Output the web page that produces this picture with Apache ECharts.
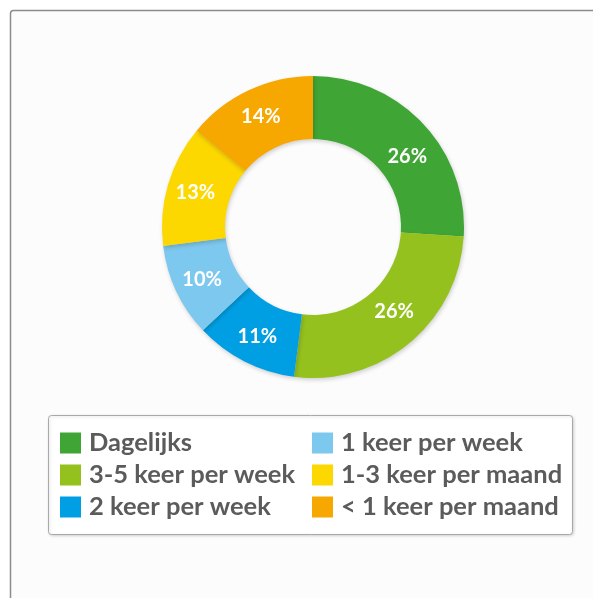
<!DOCTYPE html>
<html>
<head>
<meta charset="utf-8">
<script src="https://cdn.jsdelivr.net/npm/echarts@6/dist/echarts.min.js"></script>
<style>
html,body{margin:0;padding:0;background:#ffffff;}
#chart{width:593px;height:598px;}
</style>
</head>
<body>
<div id="chart"></div>
<script>
var categories = ["Dagelijks", "3-5 keer per week", "2 keer per week", "1 keer per week", "1-3 keer per maand", "< 1 keer per maand"];
var values = [26, 26, 11, 10, 13, 14];
var colors = ["#3fa535", "#95c11f", "#009fe3", "#7dc8ee", "#fcd700", "#f6a800"];
var legendCol1 = ["Dagelijks", "3-5 keer per week", "2 keer per week"];
var legendCol2 = ["1 keer per week", "1-3 keer per maand", "< 1 keer per maand"];

var chart = echarts.init(document.getElementById('chart'), null, {renderer: 'canvas'});

// small label nudges (layout only) to follow the reference placement
var labelNudge = {"Dagelijks": [5, 13], "3-5 keer per week": [3, -10]};

var data = categories.map(function (c, i) {
  var d = {name: c, value: values[i], itemStyle: {color: colors[i]}};
  if (labelNudge[c]) d.label = {offset: labelNudge[c]};
  return d;
});

var legendText = {fontFamily: 'Lato', fontWeight: 'bold', fontSize: 25.5, color: '#5b5b5b', lineHeight: 21, padding: [0, 0, 0, 3]};

chart.setOption({
  backgroundColor: '#ffffff',
  animation: false,
  graphic: [
    {type: 'rect', z: 0, shape: {x: 10.5, y: 10.5, width: 700, height: 700, r: 3},
     style: {fill: '#fcfcfc', stroke: '#8c8c8c', lineWidth: 1.5}},
    {type: 'rect', z: 1, shape: {x: 48.5, y: 415.5, width: 524, height: 119, r: 3},
     style: {fill: '#ffffff', stroke: '#a8a8a8', lineWidth: 1,
             shadowBlur: 3, shadowOffsetX: 1, shadowOffsetY: 1, shadowColor: 'rgba(0,0,0,0.15)'}}
  ],
  legend: [
    {data: legendCol1, orient: 'vertical', left: 60, top: 430, itemWidth: 21, itemHeight: 21, itemGap: 6,
     icon: 'rect', textStyle: legendText, selectedMode: false, padding: 0, z: 5},
    {data: legendCol2, orient: 'vertical', left: 312, top: 430, itemWidth: 21, itemHeight: 21, itemGap: 6,
     icon: 'rect', textStyle: legendText, selectedMode: false, padding: 0, z: 5}
  ],
  series: [{
    type: 'pie',
    center: [313, 227],
    radius: [88, 151],
    startAngle: 90,
    clockwise: true,
    silent: true,
    z: 3,
    itemStyle: {shadowBlur: 4, shadowOffsetX: 1, shadowOffsetY: 2, shadowColor: 'rgba(0,0,0,0.18)'},
    label: {
      show: true,
      position: 'inside',
      formatter: '{c}%',
      color: '#ffffff',
      fontFamily: 'Lato',
      fontWeight: 'bold',
      fontSize: 20
    },
    labelLine: {show: false},
    data: data
  }]
});
</script>
</body>
</html>
